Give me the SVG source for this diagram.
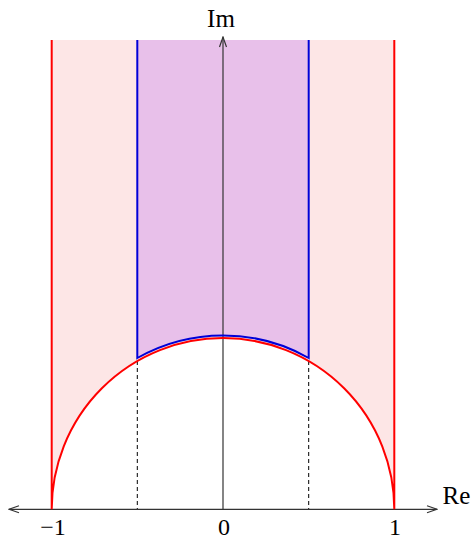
<svg xmlns="http://www.w3.org/2000/svg" width="473" height="536" viewBox="0 0 473 536">
<style>
text{font-family:"Liberation Serif","Times New Roman",serif;font-size:25px;fill:#000}
.num{font-size:24px}
.ax{stroke:#333;stroke-width:1.2;fill:none}
.red{stroke:#f00;stroke-width:2;fill:none}
.blue{stroke:#0000d8;stroke-width:2;fill:none}
.dash{stroke:#000;stroke-width:1;stroke-dasharray:4,3;fill:none}
</style>
<defs>
<marker id="arr" viewBox="0 0 12 10" refX="11" refY="5" markerWidth="12" markerHeight="10" markerUnits="userSpaceOnUse" orient="auto-start-reverse">
<path d="M1,1.5 L11,5 L1,8.5" fill="none" stroke="#333" stroke-width="1.2"/>
</marker>
</defs>
<g id="regions">
<path d="M51.7,509.3 L51.7,40 L394.3,40 L394.3,509.3 A171.3,171.3 0 0 0 51.7,509.3 Z" fill="#fde6e6"/>
<path d="M137.3,358 L137.3,40 L308.7,40 L308.7,358 A174,174 0 0 0 137.3,358 Z" fill="#e8c0ea"/>
</g>
<g id="connectors">
<line class="dash" x1="137.3" y1="361" x2="137.3" y2="509.3"/>
<line class="dash" x1="308.7" y1="361" x2="308.7" y2="509.3"/>
<line class="ax" x1="9" y1="509.3" x2="437" y2="509.3" marker-start="url(#arr)" marker-end="url(#arr)"/>
<line class="ax" x1="223" y1="509.3" x2="223" y2="37" marker-end="url(#arr)"/>
</g>
<g id="boundary-red">
<path class="red" d="M51.7,40 L51.7,509.3 A171.3,171.3 0 0 1 394.3,509.3 L394.3,40"/>
</g>
<g id="boundary-blue">
<path class="blue" d="M137.3,40 L137.3,358 A174,174 0 0 1 308.7,358 L308.7,40"/>
</g>
<g id="labels">
<text x="221" y="26.7" text-anchor="middle">Im</text>
<text x="442.5" y="504">Re</text>
<text class="num" x="53" y="534.5" text-anchor="middle">−1</text>
<text class="num" x="224" y="534.5" text-anchor="middle">0</text>
<text class="num" x="395" y="534.5" text-anchor="middle">1</text>
</g>
</svg>
